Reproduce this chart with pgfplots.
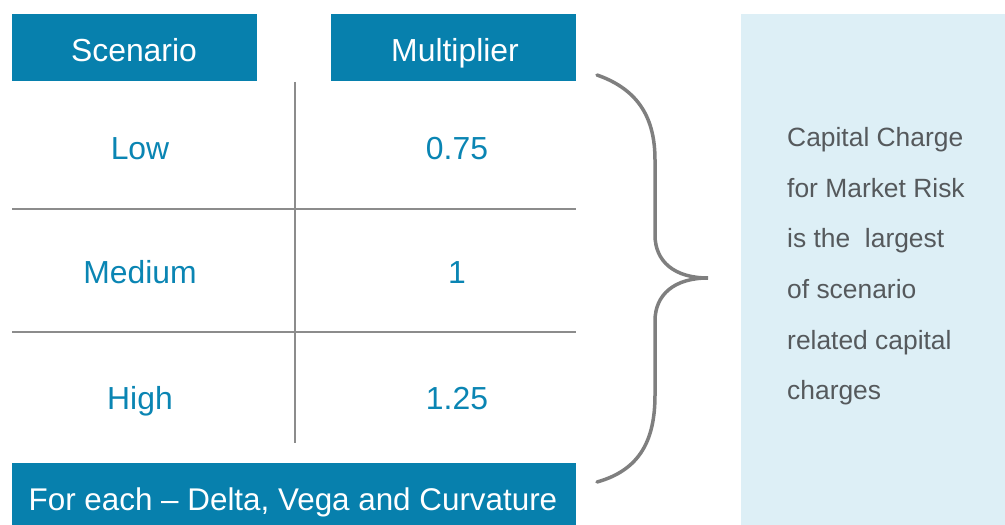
\documentclass[border=0pt]{standalone}
\usepackage{pgfplots}
\pgfplotsset{compat=1.18}
\usepackage{pgfplotstable}
\usepackage{fontspec}
\setmainfont{Liberation Sans}
\definecolor{hdr}{HTML}{0780AD}
\definecolor{cell}{HTML}{0A85B3}
\definecolor{rule}{HTML}{8C8C8C}
\definecolor{brace}{HTML}{7F7F7F}
\definecolor{panel}{HTML}{DDEFF6}
\definecolor{note}{HTML}{55595C}

\pgfplotstableread{
x y label
140 148 Low
140 272 Medium
140 398 High
}\scenarios
\pgfplotstableread{
x y label
457 148 0.75
457 272 1
457 398 1.25
}\multipliers

\tikzset{fixbig/.style={text height=23bp, text depth=0pt, inner ysep=0pt},
  fixsmall/.style={text height=19bp, text depth=0pt, inner ysep=0pt},
  notetext/.style={anchor=west, fixsmall, inner xsep=0pt, text=note, font=\fontsize{26.5}{32}\selectfont}}

\begin{document}
\begin{tikzpicture}
\begin{axis}[
  x=1bp, y=1bp, scale only axis,
  xmin=0, xmax=1005, ymin=0, ymax=525,
  y dir=reverse,
  axis lines=none, clip=false,
  nodes near coords,
  point meta=explicit symbolic,
  every node near coord/.append style={anchor=center, text=cell, fixbig,
    font=\fontsize{32}{38}\selectfont},
]
% full frame for bounding box
\path (0,0) rectangle (1005,525);
% background panel
\fill[panel] (741,14) rectangle (1005,525);
% header boxes
\fill[hdr] (12,14) rectangle (257,81);
\fill[hdr] (331,14) rectangle (576,81);
\fill[hdr] (12,463) rectangle (576,525);
\node[fixbig, text=white, font=\fontsize{32}{38}\selectfont] at (134,50) {Scenario};
\node[fixbig, text=white, font=\fontsize{32}{38}\selectfont] at (455,50) {Multiplier};
\node[fixbig, text=white, font=\fontsize{31.5}{38}\selectfont] at (293,499) {For each -- Delta, Vega and Curvature};
% grid lines
\draw[rule, line width=1.5bp] (295,82) -- (295,443);
\draw[rule, line width=1.5bp] (12,209) -- (576,209);
\draw[rule, line width=1.5bp] (12,332) -- (576,332);
% brace
\draw[brace, line width=3.5bp, line cap=round]
  (597,75) .. controls (640,90) and (655,120) .. (655,160)
  -- (655,235) .. controls (655,262) and (675,278) .. (708,278)
  .. controls (675,278) and (655,294) .. (655,321)
  -- (655,395) .. controls (655,440) and (640,470) .. (597,482);
% cells
\addplot[only marks, mark=none] table[x=x, y=y, meta=label] {\scenarios};
\addplot[only marks, mark=none] table[x=x, y=y, meta=label] {\multipliers};
% note text
\node[notetext] at (787,137) {Capital Charge};
\node[notetext] at (787,188) {for Market Risk};
\node[notetext] at (787,238) {is the\ \ largest};
\node[notetext] at (787,289) {of scenario};
\node[notetext] at (787,340) {related capital};
\node[notetext] at (787,390) {charges};
\end{axis}
\end{tikzpicture}
\end{document}
